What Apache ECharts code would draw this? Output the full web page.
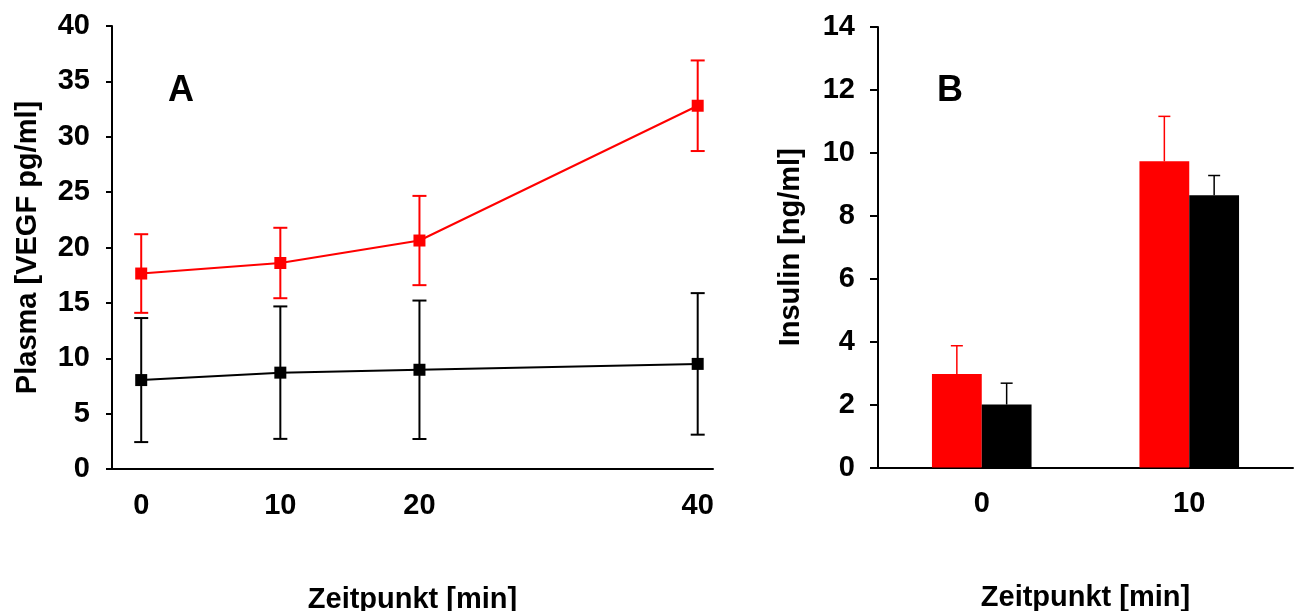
<!DOCTYPE html>
<html>
<head>
<meta charset="utf-8">
<script src="https://cdn.jsdelivr.net/npm/echarts@6/dist/echarts.min.js"></script>
<style>
  html, body { margin: 0; padding: 0; background: #fff; }
  #chart { width: 1301px; height: 611px; }
</style>
</head>
<body>
<div id="chart"></div>
<script>
// Panel A: plasma VEGF over time (mean +/- error)
const timesA = [0, 10, 20, 40]
const vegfRed = [17.65, 18.6, 20.63, 32.8]
const vegfRedErr = [3.55, 3.18, 4.03, 4.09]
const vegfBlack = [8.03, 8.7, 8.96, 9.49]
const vegfBlackErr = [5.6, 5.98, 6.25, 6.39]

// Panel B: insulin
const timesB = ['0', '10']
const insulinRed = [2.97, 9.73]
const insulinRedErr = [0.9, 1.43]
const insulinBlack = [2.0, 8.65]
const insulinBlackErr = [0.68, 0.63]

const RED = '#ff0000'
const BLACK = '#000000'
const FONT = 'Liberation Sans, Arial, sans-serif'
const BAR_W = 0.24

const labelStyle = { color: '#000', fontSize: 29, fontWeight: 'bold', fontFamily: FONT }

function errBarA(color) {
  return function (params, api) {
    const x = api.value(0), y = api.value(1), e = api.value(2)
    const hi = api.coord([x, y + e])
    const lo = api.coord([x, y - e])
    const half = 7
    const style = { stroke: color, lineWidth: 2 }
    return {
      type: 'group',
      children: [
        { type: 'line', shape: { x1: hi[0], y1: hi[1], x2: lo[0], y2: lo[1] }, style },
        { type: 'line', shape: { x1: hi[0] - half, y1: hi[1], x2: hi[0] + half, y2: hi[1] }, style },
        { type: 'line', shape: { x1: lo[0] - half, y1: lo[1], x2: lo[0] + half, y2: lo[1] }, style }
      ]
    }
  }
}

// only the upper half, centred on the bar (red left, black right)
function errBarB(color, side) {
  return function (params, api) {
    const i = api.value(0), v = api.value(1), e = api.value(2)
    const bw = api.size([1, 0])[0] * BAR_W
    const base = api.coord([i, v])
    const top = api.coord([i, v + e])
    const cx = base[0] + side * bw / 2
    const half = 6
    const style = { stroke: color, lineWidth: 1.5 }
    return {
      type: 'group',
      children: [
        { type: 'line', shape: { x1: cx, y1: base[1], x2: cx, y2: top[1] }, style },
        { type: 'line', shape: { x1: cx - half, y1: top[1], x2: cx + half, y2: top[1] }, style }
      ]
    }
  }
}

const pairs = (xs, ys) => xs.map((x, i) => [x, ys[i]])
const triples = (xs, ys, es) => xs.map((x, i) => [x, ys[i], es[i]])

const chart = echarts.init(document.getElementById('chart'))

const option = {
  animation: false,
  backgroundColor: '#fff',
  textStyle: { fontFamily: FONT },
  graphic: [
    { type: 'text', x: 181, y: 91, style: { text: 'A', fill: '#000', font: 'bold 36px ' + FONT, align: 'center', verticalAlign: 'middle' } },
    { type: 'text', x: 950, y: 91, style: { text: 'B', fill: '#000', font: 'bold 36px ' + FONT, align: 'center', verticalAlign: 'middle' } }
  ],
  grid: [
    { left: 112, top: 26, width: 601, height: 443, outerBoundsMode: 'none' },
    { left: 878, top: 27, width: 415, height: 440.5, outerBoundsMode: 'none' }
  ],
  xAxis: [
    {
      type: 'value', gridIndex: 0, min: -2.1, max: 41.1,
      name: 'Zeitpunkt [min]', nameLocation: 'middle', nameGap: 116,
      nameTextStyle: labelStyle,
      axisLine: { onZero: false, lineStyle: { color: '#000', width: 2 } },
      axisTick: { show: false },
      splitLine: { show: false },
      axisLabel: Object.assign({ margin: 22, customValues: timesA }, labelStyle)
    },
    {
      type: 'category', gridIndex: 1, data: timesB,
      name: 'Zeitpunkt [min]', nameLocation: 'middle', nameGap: 116,
      nameTextStyle: labelStyle,
      axisLine: { lineStyle: { color: '#000', width: 2 } },
      axisTick: { show: false },
      axisLabel: Object.assign({ margin: 22 }, labelStyle)
    }
  ],
  yAxis: [
    {
      type: 'value', gridIndex: 0, min: 0, max: 40, interval: 5,
      name: 'Plasma [VEGF pg/ml]', nameLocation: 'middle', nameGap: 70, nameRotate: 90,
      nameTextStyle: labelStyle,
      axisLine: { show: true, onZero: false, lineStyle: { color: '#000', width: 2 } },
      axisTick: { show: true, length: 6, lineStyle: { color: '#000', width: 2 } },
      splitLine: { show: false },
      axisLabel: Object.assign({ margin: 22 }, labelStyle)
    },
    {
      type: 'value', gridIndex: 1, min: 0, max: 14, interval: 2,
      name: 'Insulin [ng/ml]', nameLocation: 'middle', nameGap: 73, nameRotate: 90,
      nameTextStyle: labelStyle,
      axisLine: { show: true, lineStyle: { color: '#000', width: 2 } },
      axisTick: { show: true, length: 8, lineStyle: { color: '#000', width: 2 } },
      splitLine: { show: false },
      axisLabel: Object.assign({ margin: 23 }, labelStyle)
    }
  ],
  series: [
    {
      type: 'custom', xAxisIndex: 0, yAxisIndex: 0, z: 1,
      renderItem: errBarA(BLACK), encode: { x: 0, y: 1 },
      data: triples(timesA, vegfBlack, vegfBlackErr)
    },
    {
      type: 'custom', xAxisIndex: 0, yAxisIndex: 0, z: 1,
      renderItem: errBarA(RED), encode: { x: 0, y: 1 },
      data: triples(timesA, vegfRed, vegfRedErr)
    },
    {
      type: 'line', xAxisIndex: 0, yAxisIndex: 0, z: 3,
      data: pairs(timesA, vegfBlack),
      symbol: 'rect', symbolSize: 12,
      lineStyle: { color: BLACK, width: 2 },
      itemStyle: { color: BLACK }
    },
    {
      type: 'line', xAxisIndex: 0, yAxisIndex: 0, z: 3,
      data: pairs(timesA, vegfRed),
      symbol: 'rect', symbolSize: 12,
      lineStyle: { color: RED, width: 2 },
      itemStyle: { color: RED }
    },
    {
      type: 'bar', xAxisIndex: 1, yAxisIndex: 1,
      data: insulinRed, barWidth: (BAR_W * 100) + '%', barGap: 0,
      itemStyle: { color: RED }
    },
    {
      type: 'bar', xAxisIndex: 1, yAxisIndex: 1,
      data: insulinBlack, barWidth: (BAR_W * 100) + '%', barGap: 0,
      itemStyle: { color: BLACK }
    },
    {
      type: 'custom', xAxisIndex: 1, yAxisIndex: 1, z: 3,
      renderItem: errBarB(RED, -1), encode: { x: 0, y: 1 },
      data: triples([0, 1], insulinRed, insulinRedErr)
    },
    {
      type: 'custom', xAxisIndex: 1, yAxisIndex: 1, z: 3,
      renderItem: errBarB(BLACK, 1), encode: { x: 0, y: 1 },
      data: triples([0, 1], insulinBlack, insulinBlackErr)
    }
  ]
}

chart.setOption(option)
</script>
</body>
</html>
